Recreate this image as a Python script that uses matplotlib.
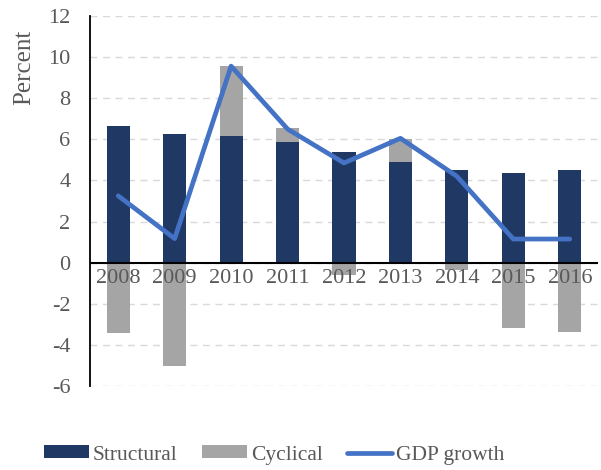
import matplotlib.pyplot as plt
import numpy as np

years = ['2008', '2009', '2010', '2011', '2012', '2013', '2014', '2015', '2016']
structural = [6.65, 6.26, 6.17, 5.87, 5.39, 4.9, 4.5, 4.37, 4.5]
cyclical = [-3.4, -5.05, 3.4, 0.7, -0.58, 1.1, -0.34, -3.2, -3.35]
gdp_growth = [3.25, 1.17, 9.56, 6.5, 4.85, 6.05, 4.2, 1.15, 1.15]
yticks = [-6, -4, -2, 0, 2, 4, 6, 8, 10, 12]

navy = '#1f3864'
grey = '#a5a5a5'
blue = '#4472c4'
text_col = '#595959'

plt.rcParams['font.family'] = ['Liberation Serif', 'DejaVu Serif']
plt.rcParams['axes.unicode_minus'] = False

fig = plt.figure(figsize=(6.01, 4.70), dpi=100)
ax = fig.add_axes([90 / 601, 1 - 386 / 470, 508 / 601, 370 / 470])

x = np.arange(len(years))
cyc = np.array(cyclical)
bottoms = np.where(cyc > 0, structural, 0)

b1 = ax.bar(x, structural, width=0.41, color=navy, label='Structural', zorder=2)
b2 = ax.bar(x, cyc, width=0.41, bottom=bottoms, color=grey, label='Cyclical', zorder=2)
l1, = ax.plot(x, gdp_growth, color=blue, linewidth=3.4, label='GDP growth', zorder=3,
              solid_capstyle='round', solid_joinstyle='round')

ax.set_xlim(-0.5, len(years) - 0.5)
ax.set_ylim(-6, 12)
ax.set_yticks(yticks)
ax.set_yticklabels([str(v) for v in yticks])
ax.grid(axis='y', color='#d9d9d9', linestyle=(0, (5, 4)), linewidth=1, zorder=0)
ax.axhline(0, color='black', linewidth=1.5, zorder=4)

for s in ['top', 'right', 'bottom']:
    ax.spines[s].set_visible(False)
ax.spines['left'].set_color('black')
ax.spines['left'].set_linewidth(1.3)

# year labels sit just under the zero line
ax.set_xticks([])
for xi, yr in zip(x, years):
    ax.text(xi, -0.75, yr, ha='center', va='center', fontsize=16, color=text_col, zorder=5)

ax.tick_params(axis='y', length=0, labelsize=16, colors=text_col, pad=14)
ax.set_ylabel('Percent', fontsize=18, color=text_col)
ax.yaxis.set_label_coords(-0.108, 0.86)

fig.legend([b1, b2, l1], ['Structural', 'Cyclical', 'GDP growth'],
           loc='center', ncol=3, frameon=False, fontsize=15.5,
           bbox_to_anchor=(0.456, 1 - 455 / 470), handlelength=2.1, handleheight=0.55,
           columnspacing=1.1, handletextpad=0.2, labelcolor=text_col,
           borderpad=0, borderaxespad=0)

fig.savefig('out.png', dpi=100)
